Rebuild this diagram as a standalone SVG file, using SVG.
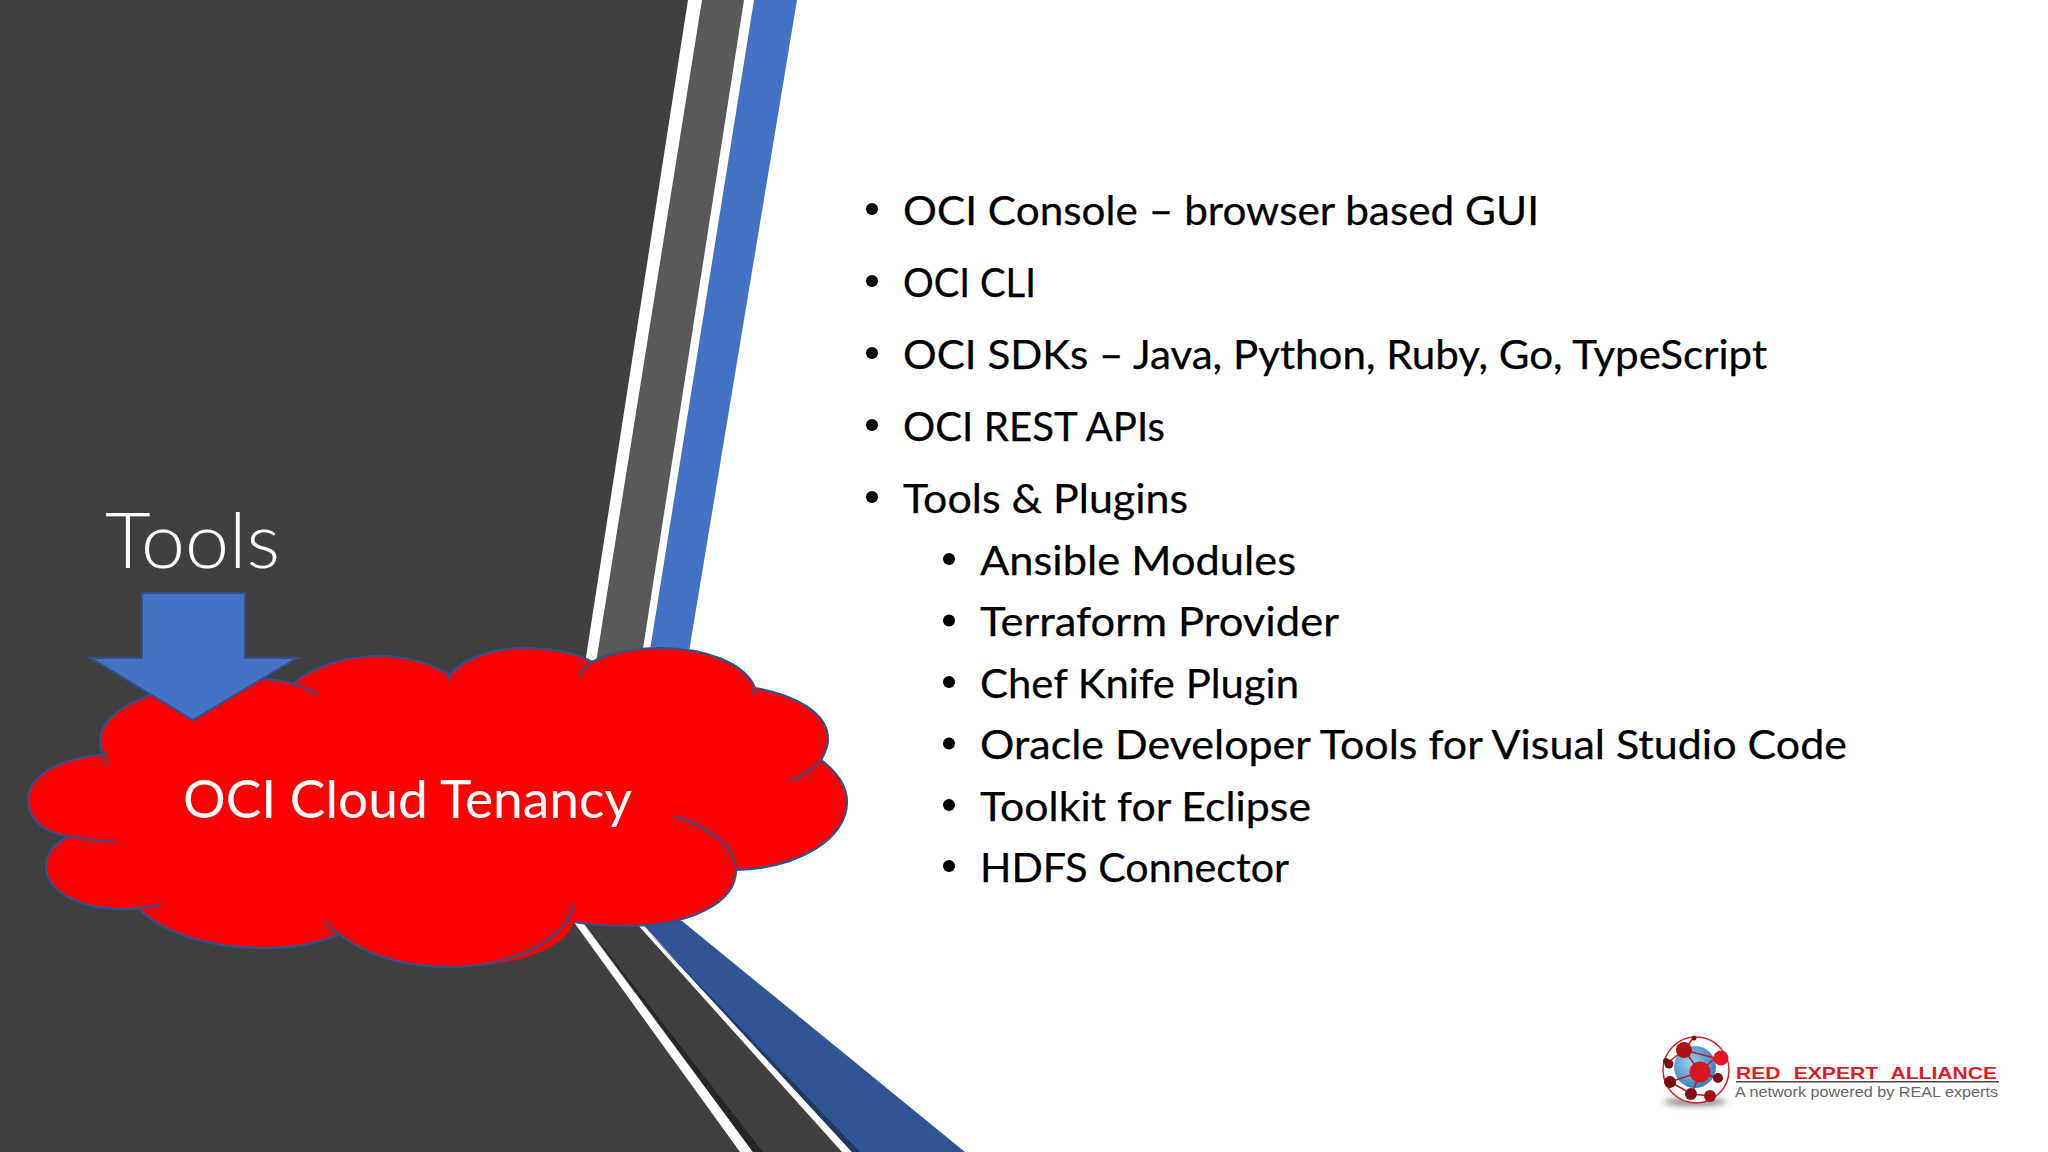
<svg xmlns="http://www.w3.org/2000/svg" width="2048" height="1152" viewBox="0 0 2048 1152">
<defs>
<style>
.t{font-family:"Lato","Carlito","Open Sans",sans-serif;font-size:40px;fill:#000;stroke:#000;stroke-width:.25}
.b{fill:#000}
.w{font-family:"Lato","Open Sans",sans-serif;fill:#fff}
.cs{fill:none;stroke:#2f528f;stroke-width:2.2;stroke-linecap:round}
</style>
<radialGradient id="glb" cx="0.4" cy="0.4" r="0.7"><stop offset="0" stop-color="#9ad0ee"/><stop offset="1" stop-color="#2a78bd"/></radialGradient>
<filter id="bl" x="-30%" y="-200%" width="160%" height="500%"><feGaussianBlur stdDeviation="3"/></filter>
</defs>
<rect width="2048" height="1152" fill="#fff"/>
<g id="background">
<polygon points="0,0 688,0 550,889 740,1152 0,1152" fill="#404040"/>
<polygon points="702,0 744,0 635,700 590,700" fill="#595959"/>
<polygon points="754,0 797,0 681,700 642,700" fill="#4472c4"/>
<polygon points="570,905 620,905 842,1152 753,1152" fill="#404040"/>
<polygon points="585,923 763,1152 753,1152" fill="#262626"/>
<polygon points="625,905 682,921 965,1152 852,1152" fill="#2f5597"/>
<polygon points="645,928 860,1152 852,1152" fill="#1f3864"/>
</g>
<g id="title"><text class="w" x="105" y="568" font-size="77" font-weight="300" textLength="175" lengthAdjust="spacingAndGlyphs">Tools</text></g>
<g id="cloud">
<path fill="#ff0000" d="M106 754C60 758 28 775 28 800C28 822 48 834 69 836C54 844 46 854 46 866C46 892 80 909 123 909C128 909 133 909 138 908C165 935 212 948 264 948C292 948 318 944 339 934C365 955 405 967 448 967C515 967 565 950 574 922C590 925 608 926 626 926C690 926 736 903 736 870C800 868 847 838 847 802C847 786 837 772 821 760C825 753 828 745 828 739C828 714 797 695 755 688C745 663 705 648 660 648C630 648 605 655 592 662C575 652 550 648 522 648C490 648 462 660 450 675C430 663 408 656 378 656C345 656 312 667 294 683C285 680 275 679 264 679C170 679 100 705 100 741C100 746 103 750 106 754Z"/>
<path class="cs" d="M106 754C60 758 28 775 28 800C28 822 48 834 69 836C84 840 100 841 115 841M69 836C54 844 46 854 46 866C46 892 80 909 123 909C128 909 133 909 138 908C146 908 153 907 160 905M138 908C165 935 212 948 264 948C292 948 318 944 339 934M327 922C330 928 334 932 339 934C365 955 405 967 448 967C515 967 565 940 574 904M574 922C590 925 608 926 626 926C690 926 736 903 736 870C736 848 712 828 674 816M736 870C800 868 847 838 847 802C847 786 837 772 821 760M792 780C802 776 812 770 821 760C825 753 828 745 828 739C828 714 797 695 755 688L752 694M755 688C745 663 705 648 660 648C630 648 605 655 592 662C585 666 582 670 580 675M592 662C575 652 550 648 522 648C490 648 462 660 450 675L448 681M450 675C430 663 408 656 378 656C345 656 312 667 294 683M317 694C303 686 285 680 264 679C170 679 100 705 100 741C100 746 103 758 106 764"/>
<text class="w" x="183" y="818" font-size="52" textLength="449" lengthAdjust="spacingAndGlyphs">OCI Cloud Tenancy</text>
</g>
<g id="arrow"><polygon points="142,593 245,593 245,658 297,658 193,720 91,658 142,658" fill="#4472c4" stroke="#2f528f" stroke-width="2"/></g>
<g id="list">
<circle class="b" cx="872" cy="209" r="6"/><text class="t" x="903" y="225" textLength="636" lengthAdjust="spacingAndGlyphs">OCI Console – browser based GUI</text>
<circle class="b" cx="872" cy="281" r="6"/><text class="t" x="903" y="297" textLength="133" lengthAdjust="spacingAndGlyphs">OCI CLI</text>
<circle class="b" cx="872" cy="353" r="6"/><text class="t" x="903" y="369" textLength="864" lengthAdjust="spacingAndGlyphs">OCI SDKs – Java, Python, Ruby, Go, TypeScript</text>
<circle class="b" cx="872" cy="425" r="6"/><text class="t" x="903" y="441" textLength="262" lengthAdjust="spacingAndGlyphs">OCI REST APIs</text>
<circle class="b" cx="872" cy="497" r="6"/><text class="t" x="903" y="513" textLength="285" lengthAdjust="spacingAndGlyphs">Tools &amp; Plugins</text>
<circle class="b" cx="949" cy="559" r="6"/><text class="t" x="980" y="574.5" textLength="316" lengthAdjust="spacingAndGlyphs">Ansible Modules</text>
<circle class="b" cx="949" cy="620.5" r="6"/><text class="t" x="980" y="636" textLength="359" lengthAdjust="spacingAndGlyphs">Terraform Provider</text>
<circle class="b" cx="949" cy="682" r="6"/><text class="t" x="980" y="697.5" textLength="319" lengthAdjust="spacingAndGlyphs">Chef Knife Plugin</text>
<circle class="b" cx="949" cy="743.5" r="6"/><text class="t" x="980" y="759" textLength="867" lengthAdjust="spacingAndGlyphs">Oracle Developer Tools for Visual Studio Code</text>
<circle class="b" cx="949" cy="805" r="6"/><text class="t" x="980" y="820.5" textLength="331" lengthAdjust="spacingAndGlyphs">Toolkit for Eclipse</text>
<circle class="b" cx="949" cy="866" r="6"/><text class="t" x="980" y="882" textLength="309" lengthAdjust="spacingAndGlyphs">HDFS Connector</text>
</g>
<g id="logo">
<ellipse cx="1695" cy="1102" rx="32" ry="3.5" fill="#777" filter="url(#bl)"/>
<circle cx="1696" cy="1070" r="33" fill="#fff" stroke="#d8202a" stroke-width="1.5"/>
<circle cx="1695" cy="1067" r="21" fill="url(#glb)"/>
<g stroke="#c8141e" stroke-width="1.5" fill="none"><path d="M1684 1050L1700 1072M1684 1050L1715 1058M1700 1072L1715 1058M1700 1072L1670 1082M1700 1072L1692 1094M1684 1050L1666 1064M1670 1082L1692 1094M1692 1094L1710 1096M1700 1072L1720 1079M1694 1037L1684 1050"/></g>
<circle cx="1684" cy="1050" r="8" fill="#b01018"/><circle cx="1721" cy="1058" r="7.5" fill="#e01820"/><circle cx="1700" cy="1072" r="10.5" fill="#d8141c"/><circle cx="1669" cy="1064" r="4.5" fill="#7a0c12"/><circle cx="1670" cy="1082" r="6" fill="#7a0c12"/><circle cx="1691" cy="1094" r="6" fill="#7a0c12"/><circle cx="1710" cy="1096" r="6" fill="#a01018"/><circle cx="1718" cy="1078" r="5" fill="#7a0c12"/><circle cx="1694" cy="1038" r="2.5" fill="#7a0c12"/><circle cx="1666" cy="1061" r="3" fill="#7a0c12"/>
<text x="1736" y="1079" font-family="'Liberation Sans',sans-serif" font-weight="700" font-size="17" word-spacing="6" fill="#e01b24" textLength="261" lengthAdjust="spacingAndGlyphs">RED EXPERT ALLIANCE</text>
<rect x="1736" y="1081" width="263" height="1.5" fill="#444"/>
<text x="1735" y="1097" font-family="'Liberation Sans',sans-serif" font-size="15" fill="#666" textLength="263" lengthAdjust="spacingAndGlyphs">A network powered by REAL experts</text>
</g>
</svg>
